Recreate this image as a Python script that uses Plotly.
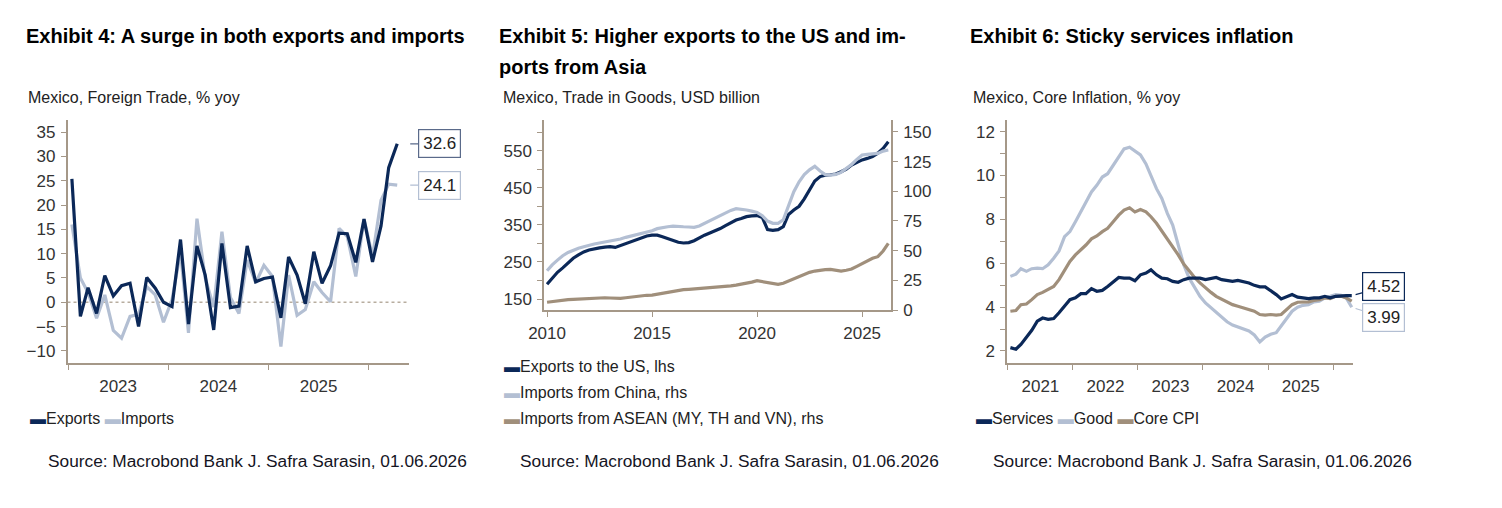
import pandas as pd
import plotly.graph_objects as go

# ---------------- Data ----------------
# Exhibit 4: Mexico foreign trade, % yoy (monthly, Jan 2023 - Apr 2026)
trade_dates = pd.date_range("2023-01-01", periods=40, freq="MS") + pd.Timedelta(days=14)
exports_yoy = [25.4, -2.9, 3.0, -2.3, 5.5, 1.3, 3.4, 3.9, -5.0, 5.1,
               2.9, 0.0, -0.9, 12.9, -4.5, 11.6, 5.6, -5.7, 12.1, -1.1,
               -0.8, 11.6, 4.2, 4.9, 5.2, -3.2, 9.3, 5.6, -0.3, 10.4,
               3.9, 7.5, 14.2, 14.1, 8.2, 17.1, 8.3, 15.7, 27.7, 32.6]
imports_yoy = [16.0, 5.0, 2.0, -3.3, 1.5, -5.8, -7.4, -2.9, -2.5, 3.2,
               1.5, -4.1, 0.5, 10.4, -6.3, 17.2, 5.0, -1.0, 14.5, 1.0,
               -2.3, 8.7, 4.0, 7.6, 5.3, -9.1, 5.6, -2.7, -1.5, 4.2,
               2.0, 0.1, 15.2, 13.5, 5.3, 17.1, 9.4, 21.0, 24.3, 24.1]

# Exhibit 5: Mexico trade in goods, USD billion (quarterly, 2010Q1 - 2026Q2)
goods_dates = pd.date_range("2010-01-01", periods=66, freq="QS")
exports_us = [190, 206, 222, 234, 248, 260, 269, 277, 282, 286, 288, 290,
              291, 289, 294, 298, 303, 308, 313, 320, 322, 322, 318, 313,
              307, 303, 301, 302, 307, 315, 322, 328, 333, 340, 348, 356,
              363, 367, 372, 374, 375, 370, 337, 335, 337, 345, 378, 390,
              400, 420, 445, 468, 480, 484, 485, 487, 493, 500, 511, 518,
              525, 529, 534, 543, 556, 574]
imports_china = [33, 38, 42, 45.7, 48.5, 50.5, 52, 53.3, 54.7, 55.6, 56.4, 57.2,
                 58, 59, 59.8, 61.2, 62.3, 63.1, 64.3, 65.7, 66.8, 68.5, 69.6, 70.1,
                 70.7, 70.7, 70.1, 69.9, 69.6, 70.7, 73, 74.9, 77.2, 79.4, 81.9, 83.9,
                 85.3, 85, 84.2, 83.3, 82.2, 79.4, 74.9, 73, 73, 76, 87, 99.6,
                 108, 114, 118, 121, 117, 114, 113.6, 114.2, 115.9, 119.2, 122.6, 126.8,
                 130.5, 131, 131.3, 131.9, 133.8, 134.7]
imports_asean = [6.5, 7.2, 7.9, 8.3, 8.7, 9.0, 9.3, 9.6, 9.8, 10.1, 10.4, 10.3,
                 10.1, 9.9, 9.8, 10.3, 10.9, 11.5, 12.1, 12.4, 12.6, 13.3, 14, 15,
                 16, 16.6, 17.1, 17.4, 17.7, 18, 18.2, 18.5, 18.8, 19.2, 19.6, 20.3,
                 21, 21.7, 22.4, 23.5, 24.7, 23.8, 23, 22.3, 21.6, 22.5, 24.4, 26.3,
                 28.1, 30, 31.7, 32.8, 33.7, 34, 34.2, 33.5, 32.8, 33.5, 34.5, 36.8,
                 39.3, 41.5, 43.5, 44.9, 49.7, 56.1]

# Exhibit 6: Mexico core inflation, % yoy (monthly, Jan 2021 - Apr 2026)
infl_dates = pd.date_range("2021-01-01", periods=64, freq="MS") + pd.Timedelta(days=14)
services = [2.15, 2.08, 2.3, 2.6, 2.94, 3.36, 3.5, 3.44, 3.48, 3.74,
            4.04, 4.34, 4.42, 4.61, 4.61, 4.84, 4.72, 4.76, 4.94, 5.17,
            5.35, 5.32, 5.32, 5.2, 5.47, 5.55, 5.7, 5.47, 5.32, 5.29,
            5.17, 5.13, 5.25, 5.32, 5.32, 5.32, 5.25, 5.29, 5.35, 5.25,
            5.22, 5.17, 5.22, 5.17, 5.1, 4.99, 4.92, 4.92, 4.75, 4.57,
            4.37, 4.49, 4.57, 4.45, 4.42, 4.39, 4.42, 4.42, 4.49, 4.42,
            4.49, 4.52, 4.52, 4.52]
goods = [5.4, 5.5, 5.75, 5.63, 5.75, 5.78, 5.75, 5.93, 6.23, 6.56,
         7.21, 7.44, 7.89, 8.34, 8.77, 9.25, 9.55, 9.93, 10.08, 10.46,
         10.84, 11.21, 11.29, 11.1, 10.94, 10.53, 10.0, 9.4, 8.95, 8.27,
         7.74, 6.83, 5.93, 5.32, 4.87, 4.49, 4.19, 3.96, 3.74, 3.54,
         3.33, 3.18, 3.09, 3.01, 2.91, 2.73, 2.41, 2.63, 2.76, 2.83,
         3.13, 3.51, 3.81, 3.99, 4.08, 4.11, 4.24, 4.27, 4.42, 4.49,
         4.57, 4.54, 4.42, 3.99]
core_cpi = [3.81, 3.84, 4.11, 4.14, 4.34, 4.57, 4.67, 4.79, 4.94, 5.25,
            5.7, 6.08, 6.38, 6.61, 6.83, 7.11, 7.24, 7.44, 7.59, 7.89,
            8.19, 8.42, 8.53, 8.34, 8.45, 8.34, 8.12, 7.82, 7.47, 7.11,
            6.76, 6.38, 5.96, 5.63, 5.35, 5.1, 4.87, 4.67, 4.49, 4.37,
            4.22, 4.11, 4.04, 3.96, 3.89, 3.81, 3.66, 3.63, 3.66, 3.63,
            3.66, 3.89, 4.11, 4.22, 4.24, 4.24, 4.3, 4.34, 4.42, 4.39,
            4.49, 4.49, 4.42, 4.27]

# ---------------- Styling ----------------
NAVY = "#0b2858"
LIGHT = "#b3bfd3"
TAUPE = "#a08f7b"
AXC = "#a59888"
TXT = "#333333"
FONT = "Liberation Sans"
TICKSIZE = 17
LW = 3.2

fig = go.Figure()

def line(x, y, color, xa, ya, name):
    fig.add_trace(go.Scatter(x=x, y=y, mode="lines", name=name, xaxis=xa, yaxis=ya,
                             line=dict(color=color, width=LW), showlegend=False,
                             hoverinfo="skip"))

# Exhibit 4
line(trade_dates, imports_yoy, LIGHT, "x", "y", "Imports")
line(trade_dates, exports_yoy, NAVY, "x", "y", "Exports")
# Exhibit 5
line(goods_dates, imports_asean, TAUPE, "x2", "y4", "Imports from ASEAN (MY, TH and VN), rhs")
line(goods_dates, imports_china, LIGHT, "x2", "y4", "Imports from China, rhs")
line(goods_dates, exports_us, NAVY, "x2", "y2", "Exports to the US, lhs")
# Exhibit 6
line(infl_dates, goods, LIGHT, "x3", "y3", "Good")
line(infl_dates, core_cpi, TAUPE, "x3", "y3", "Core CPI")
line(infl_dates, services, NAVY, "x3", "y3", "Services")

W, H = 1502, 508
def px_x(a, b):
    return [a / W, b / W]
def px_y(top, bottom):
    return [1 - bottom / H, 1 - top / H]

common_ax = dict(showline=True, linecolor=AXC, linewidth=1.5, ticks="outside",
                 tickcolor=AXC, ticklen=5, tickwidth=1.2, showgrid=False, zeroline=False,
                 automargin=False,
                 tickfont=dict(family=FONT, size=TICKSIZE, color=TXT), fixedrange=True)

fig.update_layout(
    width=W, height=H, margin=dict(l=0, r=0, t=0, b=0, pad=0, autoexpand=False),
    paper_bgcolor="white", plot_bgcolor="white", showlegend=False,
    font=dict(family=FONT, color=TXT),
    xaxis=dict(domain=px_x(67.5, 409), anchor="y", type="date",
               range=["2022-12-30", "2026-05-28"], tick0="2023-01-01", dtick="M12",
               ticklabelmode="period", tickformat="%Y", ticklabelstandoff=2, **common_ax),
    yaxis=dict(domain=px_y(120, 363), anchor="x", range=[-12.5, 37.5],
               tick0=0, dtick=5, ticklabelstandoff=2, **common_ax),
    xaxis2=dict(domain=px_x(544, 891), anchor="y2", type="date",
                range=["2009-11-09", "2026-05-18"], tick0="2010-01-01", dtick="M60",
                tickformat="%Y", ticklabelstandoff=2, **common_ax),
    yaxis2=dict(domain=px_y(120, 310), anchor="x2", range=[120.4, 632.5],
                tick0=150, dtick=100, ticklabelstandoff=2,
                minor=dict(tick0=150, dtick=50, ticks="outside", ticklen=5, tickcolor=AXC),
                **common_ax),
    yaxis4=dict(overlaying="y2", anchor="x2", side="right", range=[0, 160],
                tick0=0, dtick=25, ticklabelstandoff=2, **common_ax),
    xaxis3=dict(domain=px_x(1007, 1353), anchor="y3", type="date",
                range=["2020-12-27", "2026-04-22"], tick0="2021-01-01", dtick="M12",
                ticklabelmode="period", tickformat="%Y", ticklabelstandoff=2, **common_ax),
    yaxis3=dict(domain=px_y(120, 363), anchor="x3", range=[1.45, 12.53],
                tick0=2, dtick=2, ticklabelstandoff=2,
                minor=dict(tick0=1, dtick=1, ticks="outside", ticklen=5, tickcolor=AXC),
                **common_ax),
)

# dotted zero line in Exhibit 4
fig.add_shape(type="line", xref="x domain", yref="y", x0=0, x1=1, y0=0, y1=0,
              line=dict(color="#b8ad9f", width=1.5, dash="dot"), layer="below")

ann = []
def text(xp, yp, s, size, bold=False, color="#111111"):
    ann.append(dict(xref="paper", yref="paper", x=xp / W, y=1 - yp / H, xanchor="left",
                    yanchor="middle", showarrow=False, align="left",
                    text=f"<b>{s}</b>" if bold else s,
                    font=dict(family=FONT, size=size, color=color)))

# titles
text(24, 36, "Exhibit 4: A surge in both exports and imports", 20, True, "#000")
text(497, 36, "Exhibit 5: Higher exports to the US and im-", 20, True, "#000")
text(497, 67, "ports from Asia", 20, True, "#000")
text(968, 36, "Exhibit 6: Sticky services inflation", 20, True, "#000")
# subtitles
text(26, 97, "Mexico, Foreign Trade, % yoy", 16, color="#222")
text(501, 97, "Mexico, Trade in Goods, USD billion", 16, color="#222")
text(971, 97, "Mexico, Core Inflation, % yoy", 16, color="#222")

# legends
def sw(c):
    return f'<span style="color:{c}"><b>▬</b></span>'
text(28, 418, f"{sw(NAVY)}Exports {sw(LIGHT)}Imports", 16, color="#222")
text(502, 366, f"{sw(NAVY)}Exports to the US, lhs", 16, color="#222")
text(502, 392, f"{sw(LIGHT)}Imports from China, rhs", 16, color="#222")
text(502, 418, f"{sw(TAUPE)}Imports from ASEAN (MY, TH and VN), rhs", 16, color="#222")
text(974, 418, f"{sw(NAVY)}Services {sw(LIGHT)}Good {sw(TAUPE)}Core CPI", 16, color="#222")

# sources
for xs in (46, 518, 991):
    text(xs, 461, "Source: Macrobond Bank J. Safra Sarasin, 01.06.2026", 17.3, color="#15151f")

def endlabel_txt(xa, ya, xv, yv, s, color, ax, ay, standoff):
    ann.append(dict(xref=xa, yref=ya, x=xv, y=yv, text=s,
                    showarrow=True, ax=ax, ay=ay, axref="pixel", ayref="pixel",
                    arrowhead=0, arrowwidth=1.2, arrowcolor=color, standoff=standoff,
                    bordercolor=color, borderwidth=1.2, borderpad=4, bgcolor="white",
                    font=dict(family=FONT, size=17, color="#222")))

endlabel_txt("x", "y", trade_dates[-1], exports_yoy[-1], f"{exports_yoy[-1]:.1f}", "#5a6a8a", 42, 0, 13)
endlabel_txt("x", "y", trade_dates[-1], imports_yoy[-1], f"{imports_yoy[-1]:.1f}", LIGHT, 42, 0, 13)
endlabel_txt("x3", "y3", infl_dates[-1], services[-1], f"{services[-1]:.2f}", NAVY, 32, -9, 4)
endlabel_txt("x3", "y3", infl_dates[-1], goods[-1], f"{goods[-1]:.2f}", LIGHT, 32, 10, 4)

fig.update_layout(annotations=ann)
fig.write_html("out.html")
